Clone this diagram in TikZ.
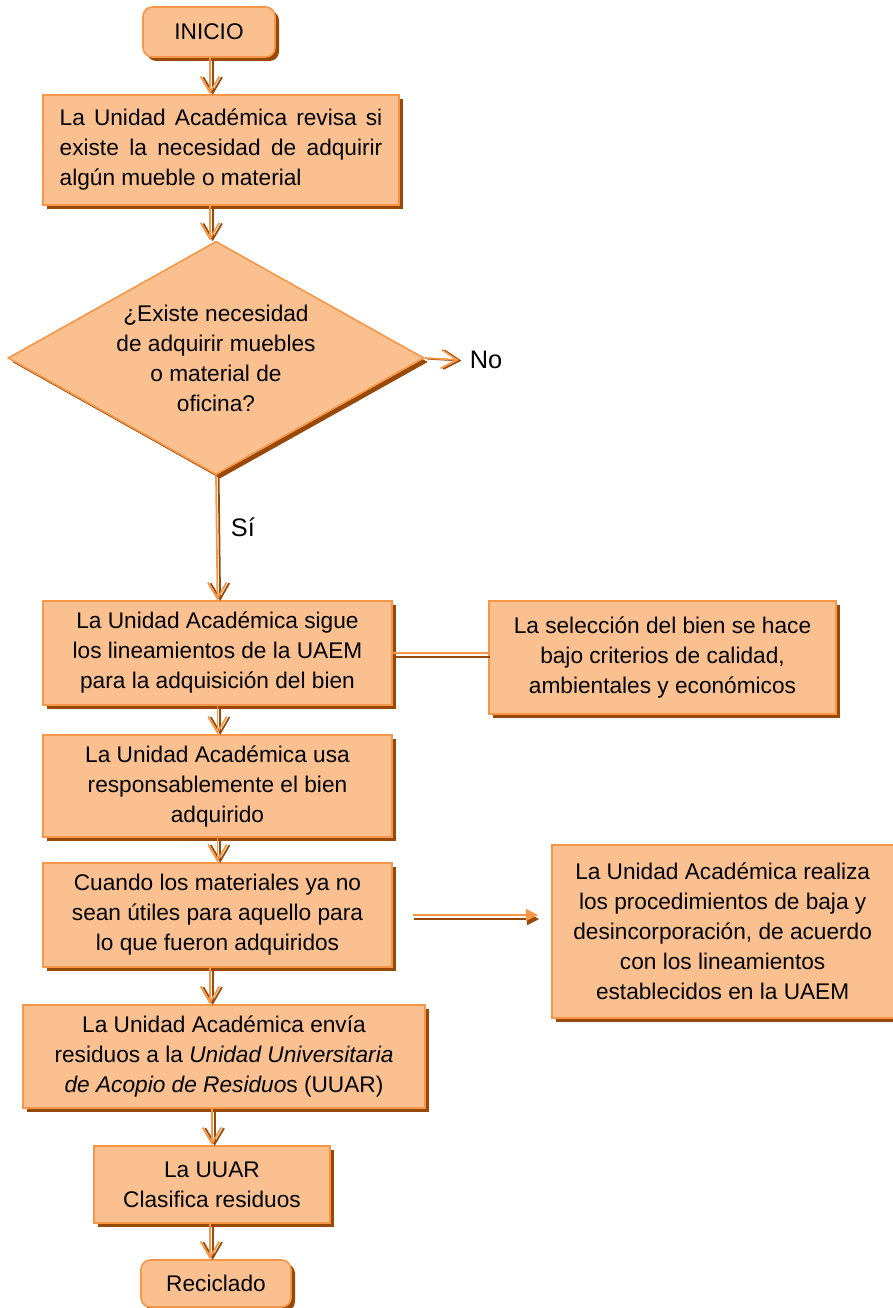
\documentclass[tikz,border=0pt]{standalone}
\usepackage{fontspec}
\setmainfont{Liberation Sans}
\usetikzlibrary{arrows.meta,shapes.geometric,shadows}
\definecolor{boxfill}{HTML}{FAC090}
\definecolor{boxline}{HTML}{F79646}
\definecolor{shadowbr}{HTML}{984807}
\hyphenpenalty=10000

\begin{document}
\begin{tikzpicture}[x=0.75pt, y=-0.75pt,
  every node/.style={font=\fontsize{17}{22.5}\selectfont},
  stepbox/.style={draw=boxline, fill=boxfill, line width=1.2pt, align=center, inner sep=2pt,
    general shadow={fill=shadowbr, shadow xshift=3pt, shadow yshift=-3pt}},
  termbox/.style={stepbox, rounded corners=7pt},
  decision/.style={stepbox, diamond, shape aspect=1.79, inner sep=0pt},
  answer/.style={font=\fontsize{19}{22}\selectfont, inner sep=2pt},
  flowarrow/.style={draw=boxline, line width=1.3pt, -{Straight Barb[length=12pt,width=14pt]},
    preaction={draw=shadowbr, line width=1.3pt, -{Straight Barb[length=12pt,width=14pt]},
      transform canvas={shift={(2pt,-0.5pt)}}}},
  sidearrow/.style={draw=boxline, line width=1.3pt, -{Triangle[length=9pt,width=9pt]},
    preaction={draw=shadowbr, line width=1.3pt, -{Triangle[length=9pt,width=9pt]},
      transform canvas={shift={(1pt,-3pt)}}}},
  sidelink/.style={draw=boxline, line width=1.3pt,
    preaction={draw=shadowbr, line width=1.3pt, transform canvas={shift={(1.5pt,-3pt)}}}}]
  \useasboundingbox (0,0) rectangle (892,1308);
  \coordinate (axis) at (210,0);
  % Main column
  \node[termbox, minimum width=99pt, minimum height=37.5pt] (inicio) at (209,32) {INICIO};
  \node[stepbox, minimum width=267pt, minimum height=82.5pt, text width=242pt, align=justify] (revisa) at (221,150)
    {La Unidad Académica revisa si existe la necesidad de adquirir algún mueble o material};
  \node[decision, minimum width=312pt, minimum height=175pt] (diam) at (216,358)
    {¿Existe necesidad\\de adquirir muebles\\o material de\\oficina?};
  \node[answer] (nolab) at (486,360) {No};
  \node[answer, anchor=west] (silab) at (228,527) {Sí};
  \node[stepbox, minimum width=261.75pt, minimum height=78pt] (sigue) at (217.5,653)
    {La Unidad Académica sigue\\los lineamientos de la UAEM\\para la adquisición del bien};
  \node[stepbox, minimum width=261.75pt, minimum height=76.5pt] (usa) at (217.5,786)
    {La Unidad Académica usa\\responsablemente el bien\\adquirido};
  \node[stepbox, minimum width=261.75pt, minimum height=78pt] (desecho) at (217.5,915)
    {Cuando los materiales ya no\\sean útiles para aquello para\\lo que fueron adquiridos};
  \node[stepbox, minimum width=301.5pt, minimum height=77.25pt] (envia) at (224,1056.5)
    {La Unidad Académica envía\\residuos a la \textit{Unidad Universitaria}\\\textit{de Acopio de Residuo}s (UUAR)};
  \node[stepbox, minimum width=177pt, minimum height=57.75pt] (clasifica) at (212,1184.5)
    {La UUAR\\Clasifica residuos};
  \node[termbox, minimum width=112.5pt, minimum height=35.25pt] (recicla) at (216,1283.5) {Reciclado};
  % Side boxes
  \node[stepbox, minimum width=260pt, minimum height=84.75pt] (seleccion) at (662.5,657.5)
    {La selección del bien se hace\\bajo criterios de calidad,\\ambientales y económicos};
  \node[stepbox, minimum width=264pt, minimum height=129.75pt] (baja) at (728,931.5)
    {\hspace*{-8pt}La Unidad Académica realiza\\\hspace*{-8pt}los procedimientos de baja y\\\hspace*{-8pt}desincorporación, de acuerdo\\\hspace*{-8pt}con los lineamientos\\\hspace*{-8pt}establecidos en la UAEM};
  % Connectors
  \draw[flowarrow] (inicio.south -| axis) -- (revisa.north -| axis);
  \draw[flowarrow] (revisa.south -| axis) -- (diam.north -| axis);
  \draw[flowarrow] (diam.east) -- ([xshift=-6pt]nolab.west);
  \draw[flowarrow] (diam.south) -- (sigue.north);
  \draw[sidelink] (sigue.east) -- (sigue.east -| seleccion.west);
  \draw[flowarrow] (sigue.south) -- (usa.north);
  \draw[flowarrow] (usa.south) -- (desecho.north);
  \draw[sidearrow] ([xshift=15pt]desecho.east) -- ([xshift=-10pt]desecho.east -| baja.west);
  \draw[flowarrow] (desecho.south -| axis) -- (envia.north -| axis);
  \draw[flowarrow] (envia.south -| clasifica) -- (clasifica.north);
  \draw[flowarrow] (clasifica.south -| axis) -- (recicla.north -| axis);
\end{tikzpicture}
\end{document}
